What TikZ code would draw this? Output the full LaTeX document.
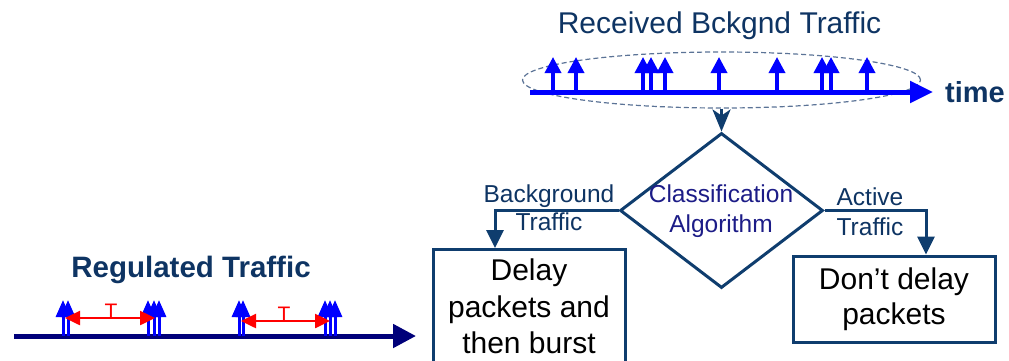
\documentclass[tikz,border=0pt]{standalone}
\usepackage{fontspec}
\setmainfont{Liberation Sans}
\usetikzlibrary{arrows.meta,shapes.geometric}
\definecolor{navytext}{RGB}{14,52,99}
\definecolor{algcol}{RGB}{28,28,135}
\definecolor{conncol}{RGB}{15,61,110}
\definecolor{dashcol}{RGB}{91,115,150}
\definecolor{pktblue}{RGB}{0,0,255}
\definecolor{axisnavy}{RGB}{0,0,122}
\definecolor{tred}{RGB}{255,0,0}
\begin{document}
\begin{tikzpicture}[x=1pt,y=-1pt,
  lbl/.style={text=navytext, font=\fontsize{24.5}{28}\selectfont, align=center, inner sep=0},
  boxnode/.style={draw=conncol, line width=3pt, text=black, font=\fontsize{30}{36.5}\selectfont, align=center, inner sep=0},
  conn/.style={draw=conncol, line width=3pt, -{Triangle[length=18pt,width=17pt]}},
  pkt/.style={draw=pktblue, line width=3.5pt, -{Triangle[length=16pt,width=16pt]}},
  rpkt/.style={draw=pktblue, line width=3pt, -{Triangle[length=17pt,width=14pt]}},
  tarrow/.style={draw=tred, line width=2.5pt, {Triangle[length=15pt,width=14pt]}-{Triangle[length=15pt,width=14pt]}},
  tlabel/.style={text=tred, font=\fontsize{21}{24}\selectfont, inner sep=0}
]
\useasboundingbox (0,0) rectangle (1009,360);

% top: received background traffic
\node[lbl, font=\fontsize{30}{34}\selectfont, anchor=base] (rcv) at (719.5,33) {Received Bckgnd Traffic};
\node[draw=dashcol, dash pattern=on 5pt off 3pt, line width=1.2pt, ellipse, minimum width=398pt, minimum height=56pt, inner sep=0] (ell) at (721.5,80) {};
\coordinate (t0) at (530,92);
\coordinate (t1) at (933,92);
\draw[draw=pktblue, line width=5pt, -{Triangle[length=23pt,width=21pt]}] (t0) -- (t1);
\foreach \x in {553,576,643,651,665,719,777,822,831,867}
  \draw[pkt] (\x,92) -- (\x,57);
\node[text=navytext, font=\bfseries\fontsize{29}{34}\selectfont, anchor=base west, inner sep=0] (time) at (945,102) {time};

% diamond
\node[draw=conncol, line width=3pt, diamond, minimum width=203pt, minimum height=155pt, inner sep=0] (alg) at (721.5,210.5) {};
\node[text=algcol, font=\fontsize{24.5}{30}\selectfont, align=center, inner sep=0, anchor=base] (algtxt) at (721,232) {Classification\\Algorithm};
\draw[draw=conncol, line width=3pt, -{Stealth[length=22pt,width=18pt,inset=6pt]}] (ell.south) -- (ell.south |- alg.north);

% boxes
\node[boxnode, minimum width=192pt, minimum height=114pt, anchor=north] (delay) at (529,248) {Delay\\packets and\\then burst};
\node[boxnode, font=\fontsize{30}{35}\selectfont, minimum width=202pt, minimum height=86pt] (dont) at (894,299) {Don’t delay\\packets};

\draw[conn] (alg.west) -| ([xshift=-34pt]delay.north);
\draw[conn] (alg.east) -| ([xshift=32pt]dont.north);
\node[lbl, anchor=base] (bgl) at (549,230) {Background\\Traffic};
\node[lbl, font=\fontsize{24.5}{30}\selectfont, anchor=base] (actl) at (870,235) {Active\\Traffic};

% regulated traffic
\node[text=navytext, font=\bfseries\fontsize{29.5}{34}\selectfont, anchor=base, inner sep=0] (reg) at (191,277) {Regulated Traffic};
\coordinate (r0) at (14,336);
\coordinate (r1) at (416,336);
\draw[draw=axisnavy, line width=5pt, -{Triangle[length=23pt,width=23pt]}] (r0) -- (r1);
\foreach \x in {63,68,148,154,159,239,243,325,330,335}
  \draw[rpkt] (\x,336) -- (\x,300);
\draw[tarrow] (65,318) -- (155,318);
\node[tlabel, anchor=base] (T1) at (111,318.5) {T};
\draw[tarrow] (241,321) -- (330,321);
\node[tlabel, anchor=base] (T2) at (284,321.5) {T};
\end{tikzpicture}
\end{document}
